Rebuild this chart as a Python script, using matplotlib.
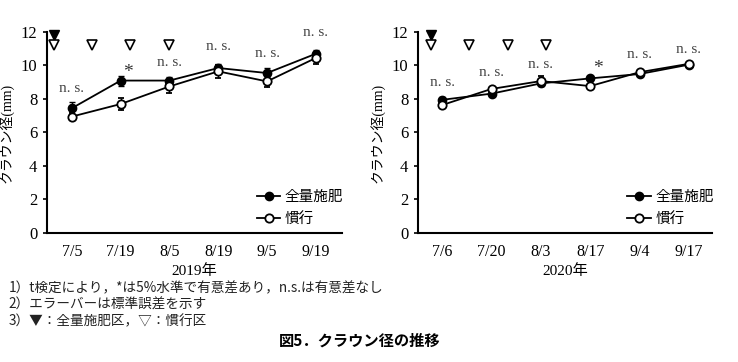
import matplotlib
matplotlib.use("Agg")
import matplotlib.pyplot as plt

plt.rcParams['font.family'] = ['Liberation Serif', 'Noto Sans CJK JP']
plt.rcParams['axes.unicode_minus'] = False

# ---------------- data ----------------
dates_2019 = ["7/5", "7/19", "8/5", "8/19", "9/5", "9/19"]
full_2019 = [7.45, 9.1, 9.1, 9.85, 9.55, 10.7]
full_err_2019 = [0.35, 0.3, 0.2, 0.25, 0.3, 0.2]
conv_2019 = [6.95, 7.7, 8.75, 9.65, 9.05, 10.45]
conv_err_2019 = [0.2, 0.35, 0.4, 0.4, 0.35, 0.35]
sig_2019 = ["n. s.", "*", "n. s.", "n. s.", "n. s.", "n. s."]
sig_y_2019 = [8.6, 9.6, 10.2, 11.15, 10.7, 12.0]
fert_full_x_2019 = [-0.37]
fert_conv_x_2019 = [-0.37, 0.41, 1.2, 1.99]

dates_2020 = ["7/6", "7/20", "8/3", "8/17", "9/4", "9/17"]
full_2020 = [7.95, 8.32, 8.93, 9.23, 9.49, 10.05]
full_err_2020 = [0.15, 0.1, 0.15, 0.1, 0.1, 0.1]
conv_2020 = [7.64, 8.6, 9.07, 8.77, 9.6, 10.1]
conv_err_2020 = [0.2, 0.12, 0.3, 0.1, 0.1, 0.1]
sig_2020 = ["n. s.", "n. s.", "n. s.", "*", "n. s.", "n. s."]
sig_y_2020 = [8.97, 9.57, 10.03, 9.8, 10.63, 10.97]
fert_full_x_2020 = [-0.22]
fert_conv_x_2020 = [-0.22, 0.55, 1.33, 2.11]

yticks = [0, 2, 4, 6, 8, 10, 12]
legend_full = "全量施肥"
legend_conv = "慣行"
ylabel = "クラウン径(mm)"
notes = ["1）t検定により，*は5%水準で有意差あり，n.s.は有意差なし",
         "2）エラーバーは標準誤差を示す",
         "3）▼：全量施肥区，▽：慣行区"]
title = "図5．クラウン径の推移"

fig = plt.figure(figsize=(7.38, 3.62), dpi=100)

def panel(rect, dates, full, ferr, conv, cerr, sig, sigy, ffx, fcx, year, xl):
    ax = fig.add_axes(rect)
    x = list(range(len(dates)))
    ax.errorbar(x, full, yerr=ferr, color='black', lw=1.3, marker='o', ms=6,
                mfc='black', mec='black', capsize=2.5, elinewidth=1.0, zorder=3)
    ax.errorbar(x, conv, yerr=cerr, color='black', lw=1.3, marker='o', ms=6,
                mfc='white', mec='black', mew=1.3, capsize=2.5, elinewidth=1.0, zorder=4)
    for xi, s, yi in zip(x, sig, sigy):
        if s == "*":
            ax.text(xi + 0.15, yi, s, ha='center', va='center', fontsize=14, color='#333333')
        else:
            ax.text(xi, yi, s, ha='center', va='center', fontsize=11, color='#444444')
    ax.plot(ffx, [11.8] * len(ffx), linestyle='none', marker='v', ms=7,
            mfc='black', mec='black', clip_on=False)
    ax.plot(fcx, [11.2] * len(fcx), linestyle='none', marker='v', ms=7,
            mfc='white', mec='black', mew=1.2, clip_on=False)
    ax.set_xlim(*xl)
    ax.set_ylim(0, 12)
    ax.set_yticks(yticks)
    ax.set_yticklabels([str(v) for v in yticks], fontsize=12)
    ax.set_xticks(x)
    ax.set_xticklabels(dates, fontsize=11.5)
    ax.tick_params(axis='x', length=0, pad=8)
    ax.tick_params(axis='y', length=3, width=1.2, direction='out', pad=4)
    for s in ['top', 'right']:
        ax.spines[s].set_visible(False)
    for s in ['left', 'bottom']:
        ax.spines[s].set_linewidth(1.5)
    ax.set_xlabel(year, fontsize=11, labelpad=3)
    ax.set_ylabel(ylabel, fontsize=10, labelpad=5)
    # legend
    ax.plot([], [], color='black', lw=1.3, marker='o', ms=6, mfc='black', label=legend_full)
    ax.plot([], [], color='black', lw=1.3, marker='o', ms=6, mfc='white', mew=1.3, label=legend_conv)
    ax.legend(loc='lower right', bbox_to_anchor=(1.05, -0.03), frameon=False,
              handlelength=1.6, handletextpad=0.3, labelspacing=0.55,
              prop={'family': ['Noto Sans CJK JP'], 'size': 10.5})
    return ax

panel([0.0637, 0.3564, 0.3993, 0.5552], dates_2019, full_2019, full_err_2019,
      conv_2019, conv_err_2019, sig_2019, sig_y_2019, fert_full_x_2019, fert_conv_x_2019,
      "2019年", (-0.51, 5.53))
panel([0.5664, 0.3564, 0.3984, 0.5552], dates_2020, full_2020, full_err_2020,
      conv_2020, conv_err_2020, sig_2020, sig_y_2020, fert_full_x_2020, fert_conv_x_2020,
      "2020年", (-0.49, 5.47))

for i, t in enumerate(notes):
    fig.text(0.012, 1 - (288 + 16.5 * i) / 362, t, fontsize=9.8, ha='left', va='center',
             family=['Noto Sans CJK JP', 'DejaVu Sans'], color='#222222')
fig.text(0.488, 1 - 341 / 362, title, fontsize=11, ha='center', va='center',
         fontweight='bold', family=['Noto Sans CJK JP', 'DejaVu Sans'])

fig.savefig("out.png", dpi=100)
